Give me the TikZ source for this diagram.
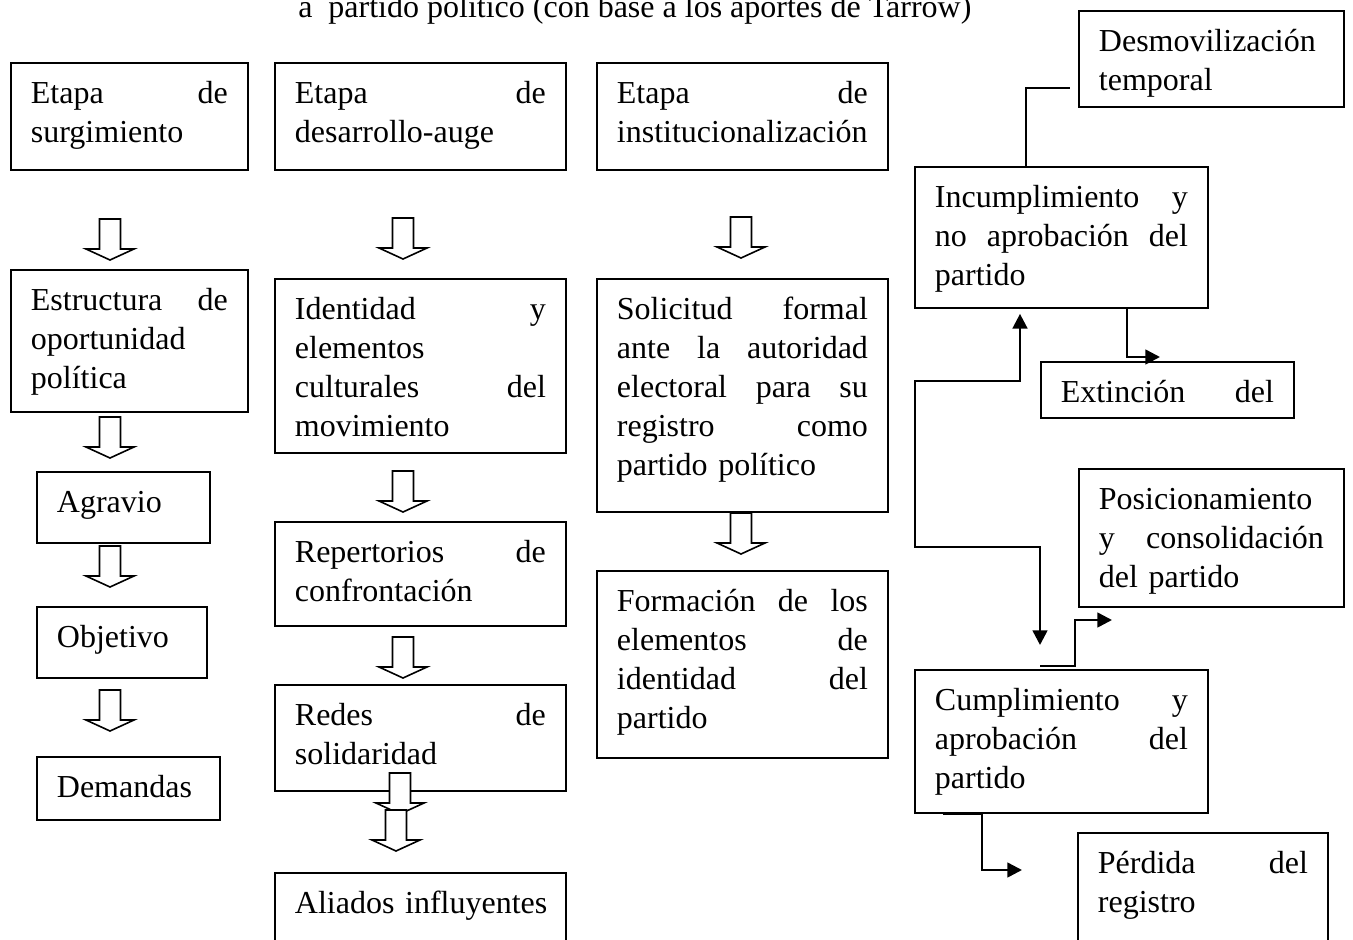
\documentclass[tikz,border=0pt]{standalone}
\usepackage{fontspec}
\setmainfont{Liberation Serif}
\usetikzlibrary{arrows.meta}
\hyphenpenalty=10000
\exhyphenpenalty=10000
\begin{document}
\begin{tikzpicture}[x=0.75pt,y=-0.75pt,
  box/.style={draw, line width=1.4pt, anchor=north west, inner xsep=15pt, inner ysep=0pt,
    text height=30.75pt, align=left, font=\fontsize{24}{29.25}\selectfont},
  conn/.style={line width=1.9pt},
  tip/.style={-{Triangle[length=11pt,width=11pt]}},
  barrow/.pic={\draw[line width=1.2pt, fill=white] (-10.5,0) -- (10.5,0) -- (10.5,30) -- (24,30) -- (0,41) -- (-24,30) -- (-10.5,30) -- cycle;}]
\useasboundingbox (0,0) rectangle (1353,939);

% title (cut at the top, as in the reference)
\node[anchor=base west, inner sep=0pt, font=\fontsize{24}{29.25}\selectfont] (title) at (298,17)
  {a\ \ partido político (con base a los aportes de Tarrow)};

% column 1
\node[box, text width=147.75pt, text depth=49.5pt] (et1) at (10,62) {Etapa\hfill de\\surgimiento};
\node[box, text width=147.75pt, text depth=75.75pt] (est) at (10,269) {Estructura\hfill de\\oportunidad\\política};
\node[box, text width=99.75pt, text depth=22.5pt] (agr) at (36,471) {Agravio};
\node[box, text width=97.5pt, text depth=22.5pt] (obj) at (36,606) {Objetivo};
\node[box, text width=107.25pt, text depth=16.5pt] (dem) at (36,756) {Demandas};

% column 2
\node[box, text width=188.25pt, text depth=49.5pt] (et2) at (274,62) {Etapa\hfill de\\desarrollo-auge};
\node[box, text width=188.25pt, text depth=99.75pt] (ide) at (274,278) {Identidad\hfill y\\elementos\\culturales\hfill del\\movimiento};
\node[box, text width=188.25pt, text depth=47.25pt] (rep) at (274,521) {Repertorios\hfill de\\confrontación};
\node[box, text width=188.25pt, text depth=48.75pt] (red) at (274,684) {Redes\hfill de\\solidaridad};
\node[box, text width=188.25pt, text depth=35.25pt] (ali) at (274,872) {\mbox{Aliados influyentes}};

% column 3
\node[box, text width=188.25pt, text depth=49.5pt] (et3) at (596,62) {Etapa\hfill de\\institucionalización};
\node[box, text width=188.25pt, text depth=144pt] (sol) at (596,278) {Solicitud\hfill formal\\ante\hfill la\hfill autoridad\\electoral\hfill para\hfill su\\registro\hfill como\\partido político};
\node[box, text width=188.25pt, text depth=109.5pt] (form) at (596,570) {Formación\hfill de\hfill los\\elementos\hfill de\\identidad\hfill del\\partido};

% right part
\node[box, text width=168.75pt, text depth=41.25pt] (desm) at (1078,10) {Desmovilización\\temporal};
\node[box, text width=189.75pt, text depth=75pt] (inc) at (914,166) {Incumplimiento\hfill y\\no\hfill aprobación\hfill del\\partido};
\node[box, text width=159.75pt, text depth=11.25pt] (ext) at (1040,361) {Extinción\hfill del};
\node[box, text width=168.75pt, text depth=72.75pt] (pos) at (1078,468) {Posicionamiento\\y\hfill consolidación\\del partido};
\node[box, text width=189.75pt, text depth=76.5pt] (cump) at (914,669) {Cumplimiento\hfill y\\aprobación\hfill del\\partido};
\node[box, text width=157.5pt, text depth=65.25pt] (perd) at (1077,832) {Pérdida\hfill del\\registro};

% hollow block arrows
\pic at (110,219) {barrow};
\pic at (110,417) {barrow};
\pic at (110,546) {barrow};
\pic at (110,690) {barrow};
\pic at (403,218) {barrow};
\pic at (403,471) {barrow};
\pic at (403,637) {barrow};
\pic at (400,773) {barrow};
\pic at (396,810) {barrow};
\pic at (741,217) {barrow};
\pic at (741,513) {barrow};

% connectors
\coordinate (k1) at (1026,88);
\coordinate (k1e) at (1070,88);
\draw[conn] (inc.north -| k1) -- (k1) -- (k1e);

\coordinate (k2) at (1127,357);
\coordinate (k2e) at (1160,357);
\draw[conn,tip] (inc.south -| k2) -- (k2) -- (k2e);

\coordinate (k3a) at (1020,381);
\coordinate (k3b) at (915,381);
\coordinate (k3c) at (915,547);
\coordinate (k3d) at (1040,547);
\coordinate (k3e) at (1040,645);
\draw[conn,{Triangle[length=11pt,width=11pt]}-{Triangle[length=11pt,width=11pt]}]
  ([yshift=-3.75pt]inc.south -| k3a) -- (k3a) -- (k3b) -- (k3c) -- (k3d) -- (k3e);

\coordinate (k4a) at (1040,666);
\coordinate (k4b) at (1075,666);
\coordinate (k4c) at (1075,620);
\coordinate (k4e) at (1112,620);
\draw[conn,tip] (k4a) -- (k4b) -- (k4c) -- (k4e);

\coordinate (k5a) at (943,812);
\coordinate (k5b) at (982,870);
\coordinate (k5e) at (1022,870);
\draw[conn,tip] (cump.south -| k5a) -- (cump.south -| k5b) -- (k5b) -- (k5e);
\end{tikzpicture}
\end{document}
